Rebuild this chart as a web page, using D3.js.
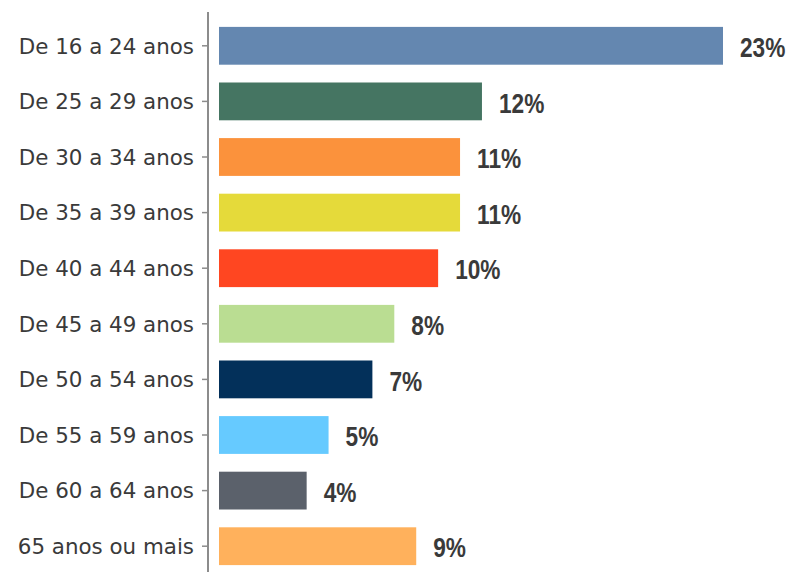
<!DOCTYPE html>
<html>
<head>
<meta charset="utf-8">
<script src="https://cdn.jsdelivr.net/npm/d3@7"></script>
<style>
  body { margin: 0; background: #fff; }
  .cat { font-family: "DejaVu Sans", sans-serif; font-size: 21.4px; fill: #3a3a3a; }
  .val { font-family: "Liberation Sans", Arial, sans-serif; font-weight: bold; font-size: 27px; fill: #3a3a3a; }
</style>
</head>
<body>
<svg width="790" height="572"></svg>
<script>
const categories = [
	"De 16 a 24 anos", "De 25 a 29 anos", "De 30 a 34 anos", "De 35 a 39 anos",
	"De 40 a 44 anos", "De 45 a 49 anos", "De 50 a 54 anos", "De 55 a 59 anos",
	"De 60 a 64 anos", "65 anos ou mais"
];
const values = [23, 12, 11, 11, 10, 8, 7, 5, 4, 9];
const colors = [
	"#6487b0", "#457562", "#fb923c", "#e5da3a", "#ff4621",
	"#badd92", "#03305a", "#66caff", "#5b616b", "#ffb15c"
];

const svg = d3.select("svg");
const x = d3.scaleLinear().domain([0, 23]).range([219, 723]);
const y = d3.scaleBand()
	.domain(categories)
	.range([18, 574])
	.paddingInner(0.32)
	.paddingOuter(0.16);

// axis line + ticks
svg.append("line")
	.attr("x1", 208).attr("x2", 208)
	.attr("y1", 12).attr("y2", 572)
	.attr("stroke", "#8c8c8c")
	.attr("stroke-width", 2);

svg.append("g")
	.selectAll("line")
	.data(categories)
	.join("line")
	.attr("x1", 202).attr("x2", 208)
	.attr("y1", d => y(d) + y.bandwidth() / 2)
	.attr("y2", d => y(d) + y.bandwidth() / 2)
	.attr("stroke", "#8c8c8c")
	.attr("stroke-width", 1.5);

svg.append("g")
	.selectAll("text")
	.data(categories)
	.join("text")
	.attr("class", "cat")
	.attr("x", 194)
	.attr("y", d => y(d) + y.bandwidth() / 2)
	.attr("dy", "0.36em")
	.attr("text-anchor", "end")
	.text(d => d);

svg.append("g")
	.selectAll("rect")
	.data(values)
	.join("rect")
	.attr("x", x(0))
	.attr("y", (d, i) => y(categories[i]))
	.attr("width", d => x(d) - x(0))
	.attr("height", y.bandwidth())
	.attr("fill", (d, i) => colors[i]);

// condensed bold labels (no narrow font installed, so squeeze horizontally)
svg.append("g")
	.selectAll("text")
	.data(values)
	.join("text")
	.attr("class", "val")
	.attr("transform", (d, i) =>
		`translate(${x(d) + 17},${y(categories[i]) + y.bandwidth() / 2 + 1.5}) scale(0.84,1)`)
	.attr("dy", "0.36em")
	.text(d => d + "%");
</script>
</body>
</html>
